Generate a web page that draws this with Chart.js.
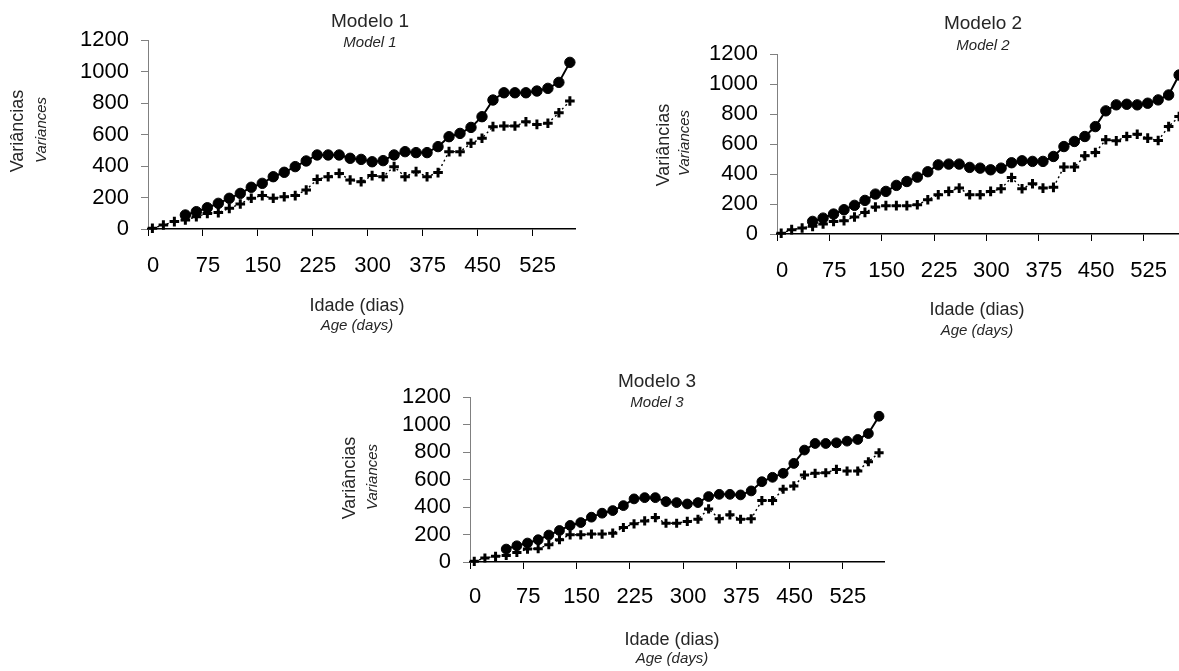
<!DOCTYPE html>
<html><head><meta charset="utf-8">
<script src="https://cdn.jsdelivr.net/npm/chart.js@4.4.1/dist/chart.umd.min.js"></script>
<style>
html,body{margin:0;padding:0;width:1179px;height:671px;overflow:hidden;background:#fff;}
.box{position:absolute;}
canvas{display:block;}
</style></head><body>
<div class="box" style="left:0px;top:0px"><canvas id="c1" width="600" height="340"></canvas></div>
<div class="box" style="left:630px;top:0px"><canvas id="c2" width="600" height="345"></canvas></div>
<div class="box" style="left:330px;top:340px"><canvas id="c3" width="600" height="331"></canvas></div>
<script>
// ---- data ----
const ages = [6,21,36,51,66,81,96,111,126,141,156,171,186,201,216,231,246,261,276,291,306,321,336,351,366,381,396,411,426,441,456,471,486,501,516,531,546,561,576];
const xTicks = [0,75,150,225,300,375,450,525];
const xTickLabels = ["0","75","150","225","300","375","450","525"];
const yTicks = [0,200,400,600,800,1000,1200];
const yTickLabels = ["0","200","400","600","800","1000","1200"];
const xMax = 583;
const yMax = 1200;

const titles = ["Modelo 1","Modelo 2","Modelo 3"];
const subtitles = ["Model 1","Model 2","Model 3"];
const xTitle = "Idade (dias)";
const xSubtitle = "Age (days)";
const yTitle = "Variâncias";
const ySubtitle = "Variances";

const model1Circles = [null,null,null,89,110,135,163,195,226,265,290,332,360,396,432,470,470,470,449,442,427,434,470,491,485,485,523,586,607,645,713,819,865,865,865,876,893,931,1058];
const model1Plus = [5,25,47,57,78,99,104,131,159,195,212,195,205,212,248,315,332,353,311,300,339,332,396,332,364,332,358,491,491,544,576,650,654,654,681,664,671,738,813];

const model2Circles = [null,null,null,84,106,133,162,191,224,266,284,324,350,379,415,461,466,466,444,439,428,439,475,488,484,484,517,583,617,650,716,821,861,865,861,872,894,927,1060];
const model2Plus = [5,29,40,51,67,84,89,113,144,180,189,189,189,195,228,262,284,306,262,262,284,302,377,302,335,306,311,446,446,521,543,628,621,650,665,639,623,716,783];

const model3Circles = [null,null,null,94,118,138,162,196,229,266,287,326,355,374,410,459,468,468,439,432,422,432,476,492,492,488,517,584,616,645,717,814,862,862,867,879,891,934,1060];
const model3Plus = [5,29,41,48,70,94,97,126,162,198,198,203,203,210,251,278,299,323,282,282,295,311,386,314,343,311,314,447,447,529,553,632,645,649,673,661,661,729,794];

// ---- drawing ----
const FONT = "'Liberation Sans', Arial, Helvetica, sans-serif";
const TXT = '#262626';

const textPlugin = {
  id: 'extraText',
  afterDraw(chart, args, opts) {
    const ctx = chart.ctx;
    (opts.items || []).forEach(it => {
      ctx.save();
      ctx.fillStyle = it.color || TXT;
      ctx.font = it.font;
      ctx.textAlign = 'center';
      ctx.textBaseline = 'middle';
      ctx.translate(it.x, it.y);
      if (it.rotate) ctx.rotate(-Math.PI / 2);
      ctx.fillText(it.text, 0, 0);
      ctx.restore();
    });
  }
};

function makeChart(id, g, circles, plus, idx) {
  const ox = g.ox, oy = g.oy;
  const items = [
    {text: titles[idx], x: g.titleX - ox, y: g.titleY - oy, font: `19px ${FONT}`},
    {text: subtitles[idx], x: g.titleX - ox, y: g.subY - oy, font: `italic 15px ${FONT}`},
    {text: yTitle, x: g.yTX - ox, y: g.yTY - oy, font: `18px ${FONT}`, rotate: true},
    {text: ySubtitle, x: g.ySX - ox, y: g.ySY - oy, font: `italic 15px ${FONT}`, rotate: true},
    {text: xTitle, x: g.xTX - ox, y: g.xTY - oy, font: `18px ${FONT}`},
    {text: xSubtitle, x: g.xTX - ox, y: g.xSY - oy, font: `italic 15px ${FONT}`}
  ];
  const canvas = document.getElementById(id);
  return new Chart(canvas, {
    type: 'line',
    data: {
      datasets: [
        {
          data: ages.map((a, i) => ({x: a, y: plus[i]})),
          borderColor: '#000',
          borderWidth: 1.4,
          borderDash: [2, 3],
          pointStyle: 'cross',
          pointRadius: g.cr,
          pointBorderWidth: 3,
          pointBorderColor: '#000',
          pointBackgroundColor: '#000',
          tension: 0,
          clip: false
        },
        {
          data: ages.map((a, i) => ({x: a, y: circles[i]})),
          borderColor: '#000',
          borderWidth: 2,
          pointStyle: 'circle',
          pointRadius: g.pr,
          pointBorderWidth: 1,
          pointBorderColor: '#000',
          pointBackgroundColor: '#000',
          tension: 0,
          spanGaps: false,
          clip: false
        }
      ]
    },
    options: {
      responsive: false,
      animation: false,
      devicePixelRatio: 1,
      events: [],
      layout: {padding: {left: 0, top: g.top - oy, right: g.padR, bottom: g.padB}},
      plugins: {
        legend: {display: false},
        tooltip: {enabled: false},
        title: {display: false},
        extraText: {items}
      },
      scales: {
        x: {
          type: 'linear',
          min: 0,
          max: xMax,
          afterBuildTicks: s => { s.ticks = xTicks.map(v => ({value: v})); },
          afterFit: s => { s.height = 60; },
          grid: {display: true, drawOnChartArea: false, drawTicks: true, tickLength: 7, color: '#000', lineWidth: 1},
          border: {display: true, color: '#000', width: 1.5},
          ticks: {autoSkip: false, maxRotation: 0, padding: g.xPad, labelOffset: 5, color: '#000',
                  font: {family: FONT, size: 22},
                  callback: v => xTickLabels[xTicks.indexOf(v)]}
        },
        y: {
          type: 'linear',
          min: 0,
          max: yMax,
          afterBuildTicks: s => { s.ticks = yTicks.map(v => ({value: v})); },
          afterFit: s => { s.width = g.axisX - ox; },
          grid: {display: true, drawOnChartArea: false, drawTicks: true, tickLength: 7, color: '#808080', lineWidth: 1},
          border: {display: true, color: '#808080', width: 1},
          ticks: {autoSkip: false, padding: 12, color: '#000', font: {family: FONT, size: 22},
                  callback: v => yTickLabels[yTicks.indexOf(v)]}
        }
      }
    },
    plugins: [textPlugin]
  });
}

// page-coordinate geometry for each panel
makeChart('c1', {ox: 0, oy: 0, axisX: 148, top: 40, padR: 600 - 575, padB: 340 - 229 - 60, xPad: 17, pr: 5.2, cr: 4.8,
  titleX: 370, titleY: 22, subY: 43, yTX: 18.5, yTY: 131, ySX: 41.5, ySY: 130, xTX: 357, xTY: 306, xSY: 326},
  model1Circles, model1Plus, 0);

makeChart('c2', {ox: 630, oy: 0, axisX: 777, top: 54, padR: 600 - (1184 - 630), padB: 345 - 234 - 60, xPad: 17, pr: 5.2, cr: 4.8,
  titleX: 983, titleY: 24, subY: 46, yTX: 664, yTY: 145, ySX: 685, ySY: 143, xTX: 977, xTY: 310, xSY: 331},
  model2Circles, model2Plus, 1);

makeChart('c3', {ox: 330, oy: 340, axisX: 470, top: 397, padR: 600 - (884 - 330), padB: 331 - (562 - 340) - 60, xPad: 15, pr: 4.9, cr: 4.6,
  titleX: 657, titleY: 382, subY: 403, yTX: 350, yTY: 478, ySX: 372.5, ySY: 477, xTX: 672, xTY: 640, xSY: 659},
  model3Circles, model3Plus, 2);
</script>
</body></html>
